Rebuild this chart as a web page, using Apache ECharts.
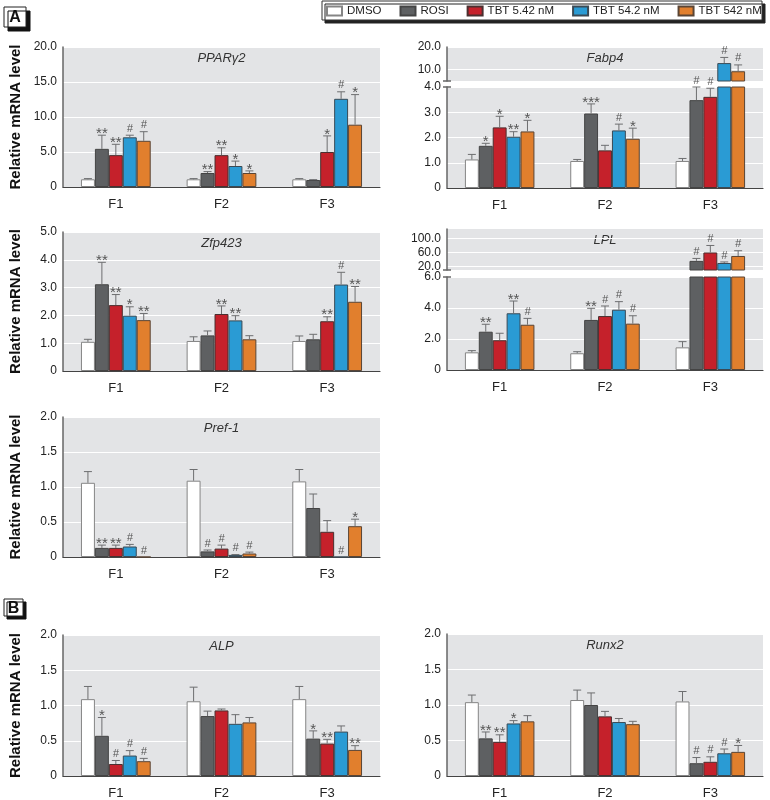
<!DOCTYPE html>
<html><head><meta charset="utf-8">
<script src="https://cdn.jsdelivr.net/npm/echarts@6/dist/echarts.min.js"></script>
<style>html,body{margin:0;padding:0;background:#fff}#c{width:770px;height:800px}</style>
</head><body><div id="c"></div>
<script>
// ---------------- DATA ----------------
const categories = ['F1', 'F2', 'F3'];
const seriesNames = ['DMSO', 'ROSI', 'TBT 5.42 nM', 'TBT 54.2 nM', 'TBT 542 nM'];
// rows = series (DMSO, ROSI, TBT 5.42, TBT 54.2, TBT 542); columns = F1, F2, F3
const pparMean = [[1.1,1.1,1.1],[5.45,2.0,1.0],[4.55,4.55,5.0],[7.1,3.0,12.6],[6.6,2.0,8.9]];
const pparErr  = [[1.2,1.2,1.2],[7.4,2.2,1.05],[6.1,5.6,7.3],[7.4,3.7,13.6],[7.9,2.3,13.2]];
const pparMark = [['','',''],['**','**',''],['**','**','*'],['#','*','#'],['#','*','*']];

const fabp4Mean = [[1.13,1.07,1.07],[1.67,2.95,3.48],[2.4,1.49,3.61],[2.03,2.28,12.9],[2.24,1.95,9.3]];
const fabp4Err  = [[1.33,1.13,1.17],[1.77,3.33,4.0],[2.84,1.69,3.95],[2.23,2.53,15.4],[2.68,2.37,12.1]];
const fabp4Mark = [['','',''],['*','***','#'],['*','','#'],['**','#','#'],['*','*','#']];

const zfpMean = [[1.05,1.08,1.08],[3.12,1.28,1.14],[2.37,2.05,1.79],[1.99,1.82,3.11],[1.83,1.14,2.49]];
const zfpErr  = [[1.14,1.23,1.26],[3.91,1.44,1.32],[2.75,2.34,1.95],[2.31,1.99,3.55],[2.07,1.27,3.04]];
const zfpMark = [['','',''],['**','',''],['**','**','**'],['*','**','#'],['**','','**']];

const lplMean = [[1.14,1.08,1.46],[2.47,3.23,36],[1.92,3.48,60],[3.66,3.89,30],[2.92,2.99,50]];
const lplErr  = [[1.25,1.18,1.83],[2.95,3.98,43],[2.37,4.13,80],[4.45,4.41,33],[3.33,3.5,65]];
const lplMark = [['','',''],['**','**','#'],['','#','#'],['**','#','#'],['#','#','#']];

const prefMean = [[1.06,1.09,1.08],[0.13,0.08,0.70],[0.13,0.12,0.36],[0.15,0.03,0],[0,0.05,0.44]];
const prefErr  = [[1.22,1.25,1.25],[0.17,0.10,0.90],[0.17,0.17,0.52],[0.18,0.035,0],[0,0.07,0.54]];
const prefMark = [['','',''],['**','#',''],['**','#',''],['#','#','#'],['#','#','*']];

const alpMean = [[1.09,1.06,1.09],[0.57,0.85,0.53],[0.17,0.93,0.46],[0.29,0.74,0.63],[0.21,0.76,0.37]];
const alpErr  = [[1.27,1.26,1.27],[0.83,0.92,0.64],[0.22,0.95,0.52],[0.36,0.87,0.71],[0.25,0.83,0.43]];
const alpMark = [['','',''],['*','','*'],['#','','**'],['#','',''],['#','','**']];

const runxMean = [[1.04,1.07,1.05],[0.53,1.0,0.18],[0.48,0.84,0.20],[0.74,0.76,0.32],[0.77,0.73,0.34]];
const runxErr  = [[1.14,1.21,1.19],[0.62,1.17,0.26],[0.58,0.91,0.27],[0.78,0.81,0.38],[0.85,0.77,0.43]];
const runxMark = [['','',''],['**','','#'],['**','','#'],['*','','#'],['','','*']];

const fabp4UpperTicks = [10, 20];
const lplUpperTicks = [20, 60, 100];

// ---------------- STYLE / LAYOUT ----------------
const FONT = '"Liberation Sans", Arial, sans-serif';
const COLORS = ['#ffffff', '#5e6062', '#c5212b', '#2a9bd4', '#e17f2d'];
const BORDERS = ['#858585', '#444444', '#4a3030', '#3a4a55', '#5a4535'];
const BG = '#e3e4e6';
const GAP = 0.34;

const panels = [
  {name:'PPARγ2', mean:pparMean, err:pparErr, mark:pparMark, left:63, top:47, width:317, height:140, max:20, interval:5, yTitle:true},
  {name:'Fabp4', mean:fabp4Mean, err:fabp4Err, mark:fabp4Mark, left:447, top:87, width:316, height:101, max:4, interval:1,
    upper:{top:47, height:34, min:5, max:20, ticks:fabp4UpperTicks}},
  {name:'Zfp423', mean:zfpMean, err:zfpErr, mark:zfpMark, left:63, top:232, width:317, height:139, max:5, interval:1, yTitle:true},
  {name:'LPL', mean:lplMean, err:lplErr, mark:lplMark, left:447, top:277, width:316, height:93, max:6, interval:2,
    upper:{top:229, height:41, min:10, max:127, ticks:lplUpperTicks}},
  {name:'Pref-1', mean:prefMean, err:prefErr, mark:prefMark, left:63, top:417, width:317, height:140, max:2, interval:0.5, yTitle:true},
  {name:'ALP', mean:alpMean, err:alpErr, mark:alpMark, left:63, top:635, width:317, height:141, max:2, interval:0.5, yTitle:true},
  {name:'Runx2', mean:runxMean, err:runxErr, mark:runxMark, left:447, top:634, width:316, height:142, max:2, interval:0.5}
];

const fmt = v => (v === 0 ? '0' : v.toFixed(1));
const labelStyle = {fontSize:12, color:'#222', fontFamily:FONT};

function makeRender(items) {
  return function (params, api) {
    const it = items[params.dataIndex];
    const band = api.size([1, 0])[0];
    const bw = band * (1 - GAP) / 5;
    const cx = api.coord([it.c, it.v])[0] + (it.s - 2) * bw;
    const yv = api.coord([it.c, it.v])[1];
    const ye = api.coord([it.c, it.e])[1];
    const children = [];
    const st = {stroke:'#6d6e70', lineWidth:1};
    if (it.e > it.v) {
      children.push({type:'line', shape:{x1:cx, y1:yv, x2:cx, y2:ye}, style:st});
      children.push({type:'line', shape:{x1:cx - 4, y1:ye, x2:cx + 4, y2:ye}, style:st});
    }
    const top = Math.min(ye, yv);
    if (it.m) {
      if (it.m === '#') {
        children.push({type:'text', x:cx, y:top - 1, style:{text:'#', font:'italic 11px ' + FONT, fill:'#555', align:'center', verticalAlign:'bottom'}});
      } else {
        children.push({type:'text', x:cx, y:top - 9, style:{text:it.m, font:'15px ' + FONT, fill:'#555', align:'center', verticalAlign:'top'}});
      }
    }
    return {type:'group', children};
  };
}

const option = {
  animation:false,
  grid:[], xAxis:[], yAxis:[], series:[], graphic:[],
  legend:{
    data:seriesNames, left:326, top:5, itemWidth:15, itemHeight:9, itemGap:18, padding:0,
    selectedMode:false, icon:'rect', textStyle:{fontSize:11.5, fontFamily:FONT, color:'#222'}
  }
};

panels.forEach(p => {
  const gi = option.grid.length;
  option.grid.push({left:p.left, top:p.top, width:p.width, height:p.height, show:true, backgroundColor:BG, borderWidth:0});
  option.xAxis.push({type:'category', gridIndex:gi, data:categories,
    axisLine:{lineStyle:{color:'#444', width:1.2}}, axisTick:{show:false},
    axisLabel:Object.assign({margin:11}, labelStyle, {fontSize:13})});
  option.yAxis.push({type:'value', gridIndex:gi, min:0, max:p.max, interval:p.interval,
    axisLine:{show:true, lineStyle:{color:'#666', width:1.5}, symbol:p.upper ? ['none','rect'] : 'none', symbolSize:[8,1.5]},
    axisTick:{show:false}, splitLine:{lineStyle:{color:'#fff', width:1}},
    axisLabel:Object.assign({formatter:fmt, margin:6}, labelStyle),
    name:p.yTitle ? 'Relative mRNA level' : '', nameLocation:'middle', nameGap:40,
    nameTextStyle:{fontSize:15, fontWeight:'bold', color:'#111', fontFamily:FONT}});
  for (let s = 0; s < 5; s++) {
    option.series.push({type:'bar', name:seriesNames[s], xAxisIndex:gi, yAxisIndex:gi, data:p.mean[s],
      barGap:'0%', barCategoryGap:(GAP * 100) + '%', silent:true,
      itemStyle:{color:COLORS[s], borderColor:BORDERS[s], borderWidth:1}});
  }
  const lowItems = [], upItems = [];
  for (let s = 0; s < 5; s++) for (let c = 0; c < 3; c++) {
    const it = {s, c, v:p.mean[s][c], e:p.err[s][c], m:p.mark[s][c]};
    if (p.upper && it.v > p.max) upItems.push(it); else lowItems.push(it);
  }
  option.series.push({type:'custom', xAxisIndex:gi, yAxisIndex:gi, silent:true, z:5,
    data:lowItems.map(it => [it.c, it.e]), encode:{x:0, y:1}, renderItem:makeRender(lowItems)});

  let titleTop = p.top;
  if (p.upper) {
    const u = p.upper;
    const ui = option.grid.length;
    titleTop = u.top;
    option.grid.push({left:p.left, top:u.top, width:p.width, height:u.height, show:true, backgroundColor:BG, borderWidth:0});
    option.xAxis.push({type:'category', gridIndex:ui, data:categories, show:false});
    option.yAxis.push({type:'value', gridIndex:ui, min:u.min, max:u.max,
      axisLine:{show:true, lineStyle:{color:'#666', width:1.5}, symbol:['rect','none'], symbolSize:[8,1.5]},
      axisTick:{show:false, customValues:u.ticks}, splitLine:{lineStyle:{color:'#fff', width:1}},
      axisLabel:Object.assign({formatter:fmt, margin:6, customValues:u.ticks}, labelStyle)});
    for (let s = 0; s < 5; s++) {
      option.series.push({type:'bar', name:seriesNames[s], xAxisIndex:ui, yAxisIndex:ui,
        data:p.mean[s].map(v => (v > u.min ? v : '-')),
        barGap:'0%', barCategoryGap:(GAP * 100) + '%', silent:true,
        itemStyle:{color:COLORS[s], borderColor:BORDERS[s], borderWidth:1}});
    }
    option.series.push({type:'custom', xAxisIndex:ui, yAxisIndex:ui, silent:true, z:5,
      data:upItems.map(it => [it.c, it.e]), encode:{x:0, y:1}, renderItem:makeRender(upItems)});
  }
  option.graphic.push({type:'text', x:p.left + p.width / 2, y:titleTop + 11,
    style:{text:p.name, font:'italic 13px ' + FONT, fill:'#333', align:'center', verticalAlign:'middle'}});
});

// legend frame
option.graphic.push({type:'rect', shape:{x:322, y:1, width:440, height:19}, z:-1,
  style:{fill:'#fff', stroke:'#333', lineWidth:1, shadowColor:'#222', shadowOffsetX:3, shadowOffsetY:3, shadowBlur:0}});
// panel letters
[{t:'A', x:4, y:7, w:22, h:20, sh:4}, {t:'B', x:4, y:599, w:19, h:17, sh:3}].forEach(b => {
  option.graphic.push({type:'rect', shape:{x:b.x, y:b.y, width:b.w, height:b.h},
    style:{fill:'#fff', stroke:'#222', lineWidth:1, shadowColor:'#111', shadowOffsetX:b.sh, shadowOffsetY:b.sh, shadowBlur:0}});
  option.graphic.push({type:'text', x:b.x + b.w / 2, y:b.y + b.h / 2 + 1,
    style:{text:b.t, font:'bold 16px ' + FONT, fill:'#111', align:'center', verticalAlign:'middle'}});
});

const chart = echarts.init(document.getElementById('c'), null, {renderer:'canvas'});
chart.setOption(option);
</script>
</body></html>
